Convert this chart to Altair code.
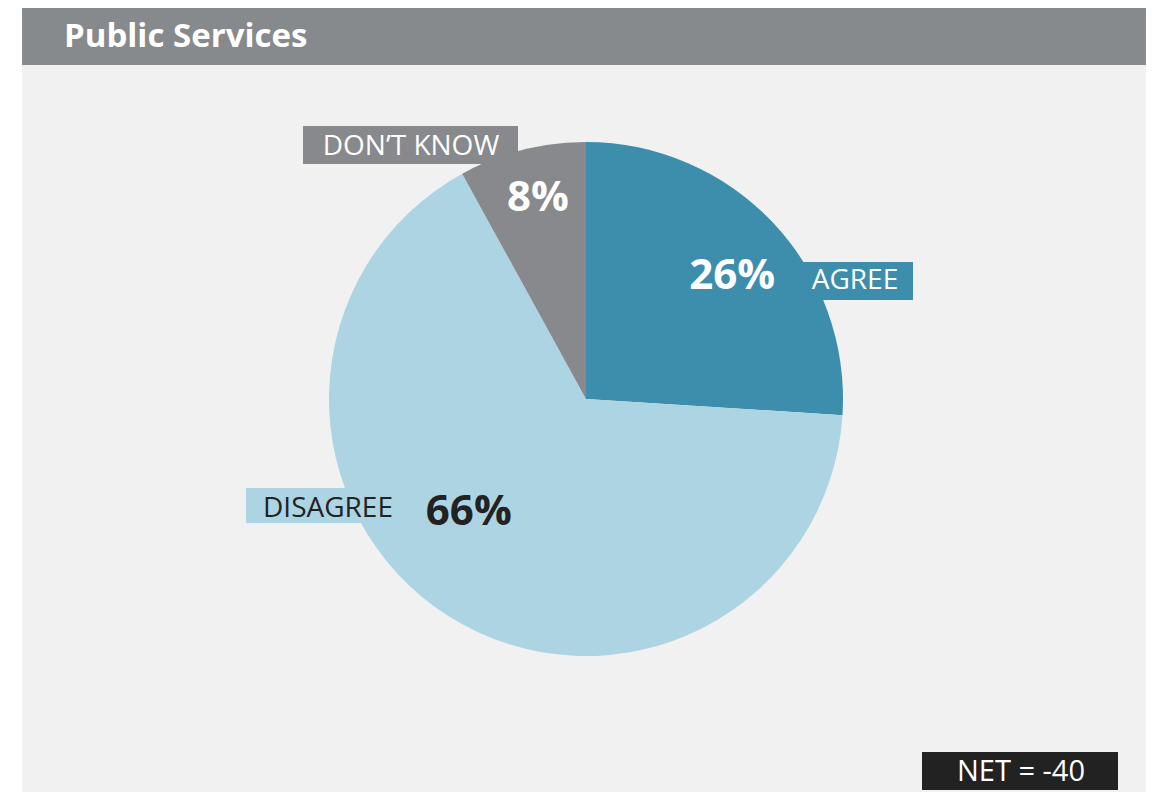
import altair as alt
import pandas as pd

# ---- data ----
categories = ["AGREE", "DISAGREE", "DON\u2019T KNOW"]
values = [26, 66, 8]
pct_labels = ["26%", "66%", "8%"]
order = [0, 1, 2]
slice_colors = ["#3D8EAD", "#ADD4E3", "#87898C"]
title_text = "Public Services"
net_text = "NET = -40"

df = pd.DataFrame({"category": categories, "value": values,
                   "pct": pct_labels, "order": order})

FONT = "Open Sans"
W, H = 1138, 784
CX, CY, R = 578, 391, 257
theta_scale = alt.Scale(domain=[0, 100])
color_scale = alt.Scale(domain=categories, range=slice_colors)

one = pd.DataFrame({"k": [0]})


def box(x, x2, y, y2, color):
    return alt.Chart(one).mark_rect(color=color, strokeWidth=0).encode(
        x=alt.value(x), x2=alt.value(x2), y=alt.value(y), y2=alt.value(y2))


panel = box(14, W, 0, H, "#F1F1F1")
header = box(14, W, 0, 57, "#878A8D")
title = alt.Chart(one).mark_text(
    text=title_text, font=FONT, fontSize=33, fontWeight="bold", color="white",
    align="left", baseline="alphabetic").encode(x=alt.value(56), y=alt.value(39))

base = alt.Chart(df).transform_window(
    cum="sum(value)", sort=[alt.SortField("order")], frame=[None, 0]
).transform_calculate(mid="datum.cum - datum.value / 2")

pie = alt.Chart(df).mark_arc(radius=R, strokeWidth=0).encode(
    theta=alt.Theta("value:Q", stack=True, scale=theta_scale),
    color=alt.Color("category:N", scale=color_scale, legend=None),
    order=alt.Order("order:Q"),
    x=alt.value(CX), y=alt.value(CY))


def pct_label(cat, radius, off, color):
    return base.transform_filter(alt.datum.category == cat).mark_text(
        radius=radius, thetaOffset=off, font=FONT, fontSize=42, fontWeight="bold",
        color=color, align="center", baseline="middle").encode(
        theta=alt.Theta("mid:Q", stack=False, scale=theta_scale),
        text="pct:N", x=alt.value(CX), y=alt.value(CY))


def cat_label(cat, bx, bx2, by, by2, tx, ty, bg, fg):
    b = box(bx, bx2, by, by2, bg)
    t = alt.Chart(df).transform_filter(alt.datum.category == cat).mark_text(
        font=FONT, fontSize=28, color=fg, align="center", baseline="alphabetic").encode(
        text="category:N", x=alt.value(tx), y=alt.value(ty))
    return b, t


dk_box, dk_txt = cat_label(categories[2], 295, 510, 118, 156, 403, 147, slice_colors[2], "white")
ag_box, ag_txt = cat_label(categories[0], 795, 905, 254, 292, 847, 281, slice_colors[0], "white")
di_box, di_txt = cat_label(categories[1], 238, 402, 480, 515, 320, 509, slice_colors[1], "#222222")

net_box = box(914, 1110, 744, 782, "#222222")
net = alt.Chart(one).mark_text(
    text=net_text, font=FONT, fontSize=29, color="white",
    align="center", baseline="alphabetic").encode(x=alt.value(1013), y=alt.value(773))

chart = alt.layer(
    panel, header, title,
    pie, dk_box, ag_box, di_box,
    pct_label(categories[0], 191, 0.054, "white"),
    pct_label(categories[1], 163, 0.237, "#222222"),
    pct_label(categories[2], 207, 0.017, "white"),
    dk_txt, ag_txt, di_txt,
    net_box, net,
).properties(
    width=W, height=H, padding=0, autosize="none", background="white"
).configure_view(stroke=None)

chart.save("out.html", embed_options={"renderer": "svg", "actions": False})
